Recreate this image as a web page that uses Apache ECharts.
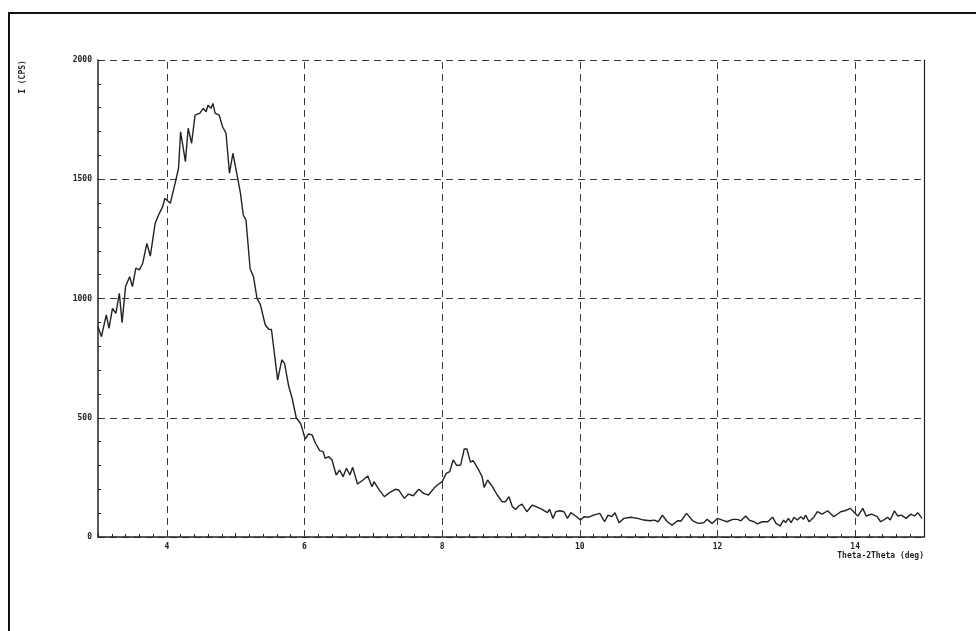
<!DOCTYPE html>
<html>
<head>
<meta charset="utf-8">
<script src="https://cdn.jsdelivr.net/npm/echarts@6/dist/echarts.min.js"></script>
<style>
html,body{margin:0;padding:0;background:#fff;}
#c{width:976px;height:631px;}
</style>
</head>
<body>
<div id="c"></div>
<script>
// 2-theta angle (deg)
const theta = [
3.00,3.05,3.12,3.16,3.21,3.26,3.31,3.35,3.40,3.46,3.50,3.55,3.60,3.65,3.71,3.76,3.83,3.88,3.94,3.97,
4.05,4.12,4.17,4.20,4.27,4.31,4.36,4.41,4.48,4.53,4.57,4.60,4.64,4.67,4.70,4.76,4.81,4.86,4.91,4.96,
5.02,5.07,5.11,5.15,5.21,5.26,5.31,5.36,5.43,5.48,5.52,5.61,5.67,5.71,5.77,5.82,5.88,5.94,5.96,
6.01,6.06,6.11,6.16,6.22,6.27,6.30,6.35,6.40,6.46,6.51,6.56,6.61,6.66,6.70,6.77,6.85,6.92,6.98,
7.01,7.08,7.16,7.24,7.32,7.37,7.45,7.51,7.58,7.66,7.73,7.80,7.88,7.93,
8.00,8.06,8.11,8.16,8.21,8.27,8.32,8.36,8.41,8.45,8.53,8.58,8.61,8.66,8.73,8.80,8.87,8.92,8.97,
9.02,9.07,9.11,9.16,9.23,9.31,9.38,9.45,9.53,9.56,9.61,9.65,9.71,9.77,9.82,9.87,9.94,
10.01,10.06,10.13,10.20,10.29,10.36,10.41,10.46,10.51,10.57,10.64,10.74,10.84,10.93,
11.02,11.08,11.14,11.20,11.27,11.34,11.42,11.47,11.55,11.64,11.72,11.80,11.85,11.92,
12.00,12.07,12.14,12.22,12.29,12.34,12.41,12.46,12.53,12.58,12.65,12.73,12.80,12.85,12.91,12.96,12.99,
13.03,13.07,13.11,13.16,13.21,13.25,13.28,13.33,13.40,13.45,13.52,13.60,13.69,13.79,13.85,13.93,13.99,
14.04,14.11,14.16,14.24,14.32,14.37,14.43,14.47,14.51,14.57,14.62,14.67,14.74,14.81,14.86,14.91,14.97
];
// intensity (CPS)
const intensity = [
882,840,931,875,959,938,1022,899,1050,1091,1050,1127,1120,1148,1231,1178,1315,1350,1385,1420,
1399,1483,1546,1699,1574,1714,1651,1769,1777,1797,1783,1811,1797,1818,1777,1769,1720,1693,1525,1609,
1518,1441,1350,1329,1125,1090,1001,973,889,871,870,658,743,728,633,582,500,477,462,
410,432,428,393,362,358,330,337,323,260,281,253,288,260,292,222,239,256,211,
232,200,169,187,200,197,162,180,173,200,183,176,204,218,
232,267,274,323,300,302,369,369,314,320,281,253,208,239,211,176,148,148,169,
127,116,130,138,106,134,125,116,102,116,78,106,110,106,78,102,88,
71,85,83,92,99,64,92,85,102,60,78,83,78,71,
68,71,64,92,64,50,68,67,99,68,57,60,74,57,
78,71,64,74,74,68,88,71,64,55,64,64,83,57,46,71,60,
78,60,83,71,85,74,92,64,83,106,96,110,85,106,110,120,102,
88,120,88,96,85,64,74,83,71,110,88,92,78,96,88,102,78
];
const xGridTicks = [4, 6, 8, 10, 12, 14];
const yTicks = [0, 500, 1000, 1500, 2000];

const font = {fontFamily: 'DejaVu Sans Mono', fontWeight: 'bold', fontSize: 8, color: '#222'};
const dash = {color: '#3a3a3a', width: 1, type: [7, 5]};

const chart = echarts.init(document.getElementById('c'), null, {renderer: 'canvas'});
chart.setOption({
  animation: false,
  backgroundColor: '#fff',
  grid: {left: 98, right: 52, top: 60, bottom: 94, containLabel: false},
  xAxis: {
    type: 'value', min: 3, max: 15, interval: 1,
    axisLine: {show: true, onZero: false, lineStyle: {color: '#222', width: 1.5}},
    axisTick: {show: true, inside: true, length: 4, lineStyle: {color: '#222'}},
    minorTick: {show: true, splitNumber: 5, length: 3, lineStyle: {color: '#222'}},
    splitLine: {show: false},
    axisLabel: Object.assign({margin: 6, formatter: v => (xGridTicks.indexOf(v) >= 0 ? String(v) : '')}, font)
  },
  yAxis: [{
    type: 'value', min: yTicks[0], max: yTicks[yTicks.length - 1], interval: 500,
    axisLine: {show: true, lineStyle: {color: '#222', width: 1.5}},
    axisTick: {show: true, inside: true, length: 4, lineStyle: {color: '#222'}},
    minorTick: {show: true, splitNumber: 5, length: 3, lineStyle: {color: '#222'}},
    splitLine: {show: true, lineStyle: dash},
    axisLabel: Object.assign({margin: 6, formatter: v => String(v)}, font)
  }, {
    type: 'value', position: 'right', min: 0, max: 2000, interval: 500,
    axisLine: {show: true, lineStyle: {color: '#222', width: 1.2}},
    axisTick: {show: false}, axisLabel: {show: false}, splitLine: {show: false}
  }],
  series: [{
    type: 'line',
    data: theta.map((t, i) => [t, intensity[i]]),
    showSymbol: false,
    symbol: 'none',
    lineStyle: {color: '#222', width: 1.4},
    markLine: {
      silent: true, symbol: 'none', animation: false,
      label: {show: false},
      lineStyle: dash,
      data: xGridTicks.map(v => ({xAxis: v}))
    }
  }],
  graphic: [
    {type: 'rect', shape: {x: 9, y: 13, width: 1000, height: 700}, style: {fill: 'none', stroke: '#111', lineWidth: 2}, silent: true, z: 100},
    {type: 'text', x: 23, y: 77, rotation: Math.PI / 2, style: {text: 'I (CPS)', font: 'bold 8px "DejaVu Sans Mono"', fill: '#222', textAlign: 'center', textVerticalAlign: 'middle'}},
    {type: 'text', x: 924, y: 556, style: {text: 'Theta-2Theta (deg)', font: 'bold 8px "DejaVu Sans Mono"', fill: '#222', textAlign: 'right', textVerticalAlign: 'middle'}}
  ]
});
</script>
</body>
</html>
